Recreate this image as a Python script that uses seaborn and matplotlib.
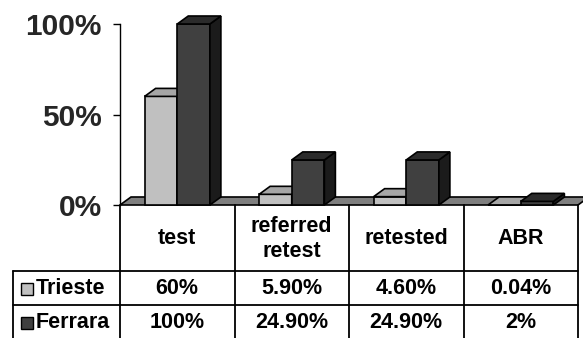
import matplotlib
matplotlib.use("Agg")
import matplotlib.pyplot as plt
from matplotlib.patches import Polygon, Rectangle
from matplotlib.lines import Line2D
import pandas as pd
import seaborn as sns

# --- data -------------------------------------------------------------
categories = ["test", "referred\nretest", "retested", "ABR"]
series_names = ["Trieste", "Ferrara"]
trieste = [60, 5.9, 4.6, 0.04]
ferrara = [100, 24.9, 24.9, 2]
trieste_labels = ["60%", "5.90%", "4.60%", "0.04%"]
ferrara_labels = ["100%", "24.90%", "24.90%", "2%"]
y_ticks = [0, 50, 100]
y_tick_labels = ["0%", "50%", "100%"]

# --- styling ----------------------------------------------------------
front_colors = ["#c0c0c0", "#404040"]
top_colors = ["#a6a6a6", "#2b2b2b"]
side_colors = ["#8e8e8e", "#1b1b1b"]
floor_color = "#7f7f7f"
edge_lw = 1.2

sns.set_theme(style="white")
plt.rcParams["font.family"] = ["Liberation Sans", "DejaVu Sans"]
plt.rcParams["font.weight"] = "bold"

W, H = 583, 338
fig = plt.figure(figsize=(W / 100, H / 100), dpi=100)
fig.patch.set_facecolor("white")


def px_box(x0, y_top, x1, y_bottom):
    return [x0 / W, 1 - y_bottom / H, (x1 - x0) / W, (y_bottom - y_top) / H]


def fx(x):
    return x / W


def fy(y):
    return 1 - y / H


ax = fig.add_axes(px_box(120, 24, 578, 205))
ax.set_facecolor("none")

df = pd.DataFrame({
    "category": categories * 2,
    "site": [series_names[0]] * len(categories) + [series_names[1]] * len(categories),
    "value": trieste + ferrara,
})

sns.barplot(data=df, x="category", y="value", hue="site", order=categories,
            hue_order=series_names, palette=front_colors, saturation=1,
            width=0.57, edgecolor="black", linewidth=edge_lw, legend=False, ax=ax)

ax.set_xlim(-0.5, len(categories) - 0.5)
ax.set_ylim(0, 100)

# depth of the 3-D effect, in data units (about 11 px right, 8 px up)
px_per_x = (578 - 120) / len(categories)
px_per_y = (205 - 24) / 100
dx = 11 / px_per_x
dy = 8 / px_per_y

# floor slab
x_lo, x_hi = -0.5, len(categories) - 0.5
floor = Polygon([(x_lo, 0), (x_hi, 0), (x_hi + dx, dy), (x_lo + dx, dy)],
                closed=True, facecolor=floor_color, edgecolor="black",
                linewidth=edge_lw, clip_on=False, zorder=1)
ax.add_patch(floor)

# top and side faces on every bar
for i, container in enumerate(ax.containers):
    base_z = 3 + i
    for bar in container:
        bar.set_zorder(base_z)
        bar.set_clip_on(False)
        x0, w, h = bar.get_x(), bar.get_width(), bar.get_height()
        top = Polygon([(x0, h), (x0 + w, h), (x0 + w + dx, h + dy), (x0 + dx, h + dy)],
                      closed=True, facecolor=top_colors[i], edgecolor="black",
                      linewidth=edge_lw, clip_on=False, zorder=base_z + 0.5)
        side = Polygon([(x0 + w, 0), (x0 + w + dx, dy), (x0 + w + dx, h + dy), (x0 + w, h)],
                       closed=True, facecolor=side_colors[i], edgecolor="black",
                       linewidth=edge_lw, clip_on=False, zorder=base_z + 0.5)
        ax.add_patch(side)
        ax.add_patch(top)

# axes cosmetics
for s in ["top", "right", "bottom"]:
    ax.spines[s].set_visible(False)
ax.spines["left"].set_color("black")
ax.spines["left"].set_linewidth(1.0)
ax.set_yticks(y_ticks)
ax.set_yticklabels(y_tick_labels, fontsize=21.5, fontweight="bold")
ax.tick_params(axis="y", left=True, direction="out", length=5, width=1,
               color="black", pad=8)
ax.set_xticks([])
ax.set_xlabel("")
ax.set_ylabel("")

# --- data table below the plot ---------------------------------------
fig.canvas.draw()
col_px = [ax.transData.transform((k - 0.5, 0))[0] for k in range(len(categories) + 1)]
top_y, row1_y, row2_y, bot_y = 205, 271, 305, 339
legend_left = 13
table_lw = 1.3


def line(x0, y0, x1, y1):
    fig.add_artist(Line2D([fx(x0), fx(x1)], [fy(y0), fy(y1)], color="black",
                          linewidth=table_lw, transform=fig.transFigure))


for c in col_px:
    line(c, top_y, c, bot_y)
line(legend_left, row1_y, legend_left, bot_y)
line(legend_left, row1_y, col_px[-1], row1_y)
line(legend_left, row2_y, col_px[-1], row2_y)

text_kw = dict(ha="center", va="center", fontsize=15.5, fontweight="bold",
               color="black", transform=fig.transFigure)
for k, cat in enumerate(categories):
    cx = (col_px[k] + col_px[k + 1]) / 2
    fig.text(fx(cx), fy((top_y + row1_y) / 2 + 1), cat, linespacing=1.25, **text_kw)
    fig.text(fx(cx), fy((row1_y + row2_y) / 2 + 1), trieste_labels[k], **text_kw)
    fig.text(fx(cx), fy((row2_y + bot_y) / 2 + 1), ferrara_labels[k], **text_kw)

# legend keys inside the first column
for j, (name, y0, y1) in enumerate([(series_names[0], row1_y, row2_y),
                                     (series_names[1], row2_y, bot_y)]):
    cy = (y0 + y1) / 2 + 1
    sq = 12
    fig.add_artist(Rectangle((fx(21), fy(cy + sq / 2)), sq / W, sq / H,
                             facecolor=front_colors[j], edgecolor="black",
                             linewidth=1.0, transform=fig.transFigure))
    fig.text(fx(36), fy(cy), name, ha="left", va="center", fontsize=15.5,
             fontweight="bold", color="black", transform=fig.transFigure)

fig.savefig("out.png", dpi=100, facecolor="white")
